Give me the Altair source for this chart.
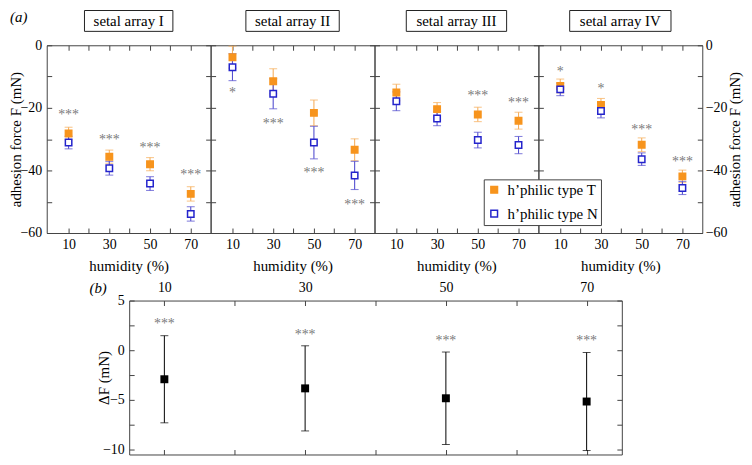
import altair as alt
import pandas as pd

# ---------------- data ----------------
humidity = [10, 30, 50, 70]
arrays = ["setal array I", "setal array II", "setal array III", "setal array IV"]
series = ["h\u2019philic type T", "h\u2019philic type N"]

t_mean = [[-28.2, -35.6, -38.0, -47.5],
          [-3.8, -11.5, -21.6, -33.4],
          [-15.1, -20.4, -22.1, -24.1],
          [-13.0, -19.1, -31.8, -41.9]]
t_err = [[2.0, 2.1, 2.1, 2.3],
         [3.5, 4.0, 4.1, 3.5],
         [2.65, 2.1, 2.3, 2.7],
         [2.2, 2.1, 2.2, 2.0]]
n_mean = [[-31.1, -39.3, -44.2, -53.9],
          [-7.0, -15.5, -31.1, -41.6],
          [-17.9, -23.4, -30.3, -31.9],
          [-14.1, -21.0, -36.4, -45.6]]
n_err = [[2.0, 2.2, 2.2, 2.3],
         [4.3, 4.8, 5.2, 4.5],
         [3.0, 2.3, 2.5, 2.75],
         [2.0, 2.2, 2.0, 2.1]]
sig_label = [["***", "***", "***", "***"],
             ["*", "***", "***", "***"],
             ["", "", "***", "***"],
             ["*", "*", "***", "***"]]
sig_pos = [[-21.8, -29.7, -32.1, -40.9],
           [-14.6, -24.4, -40.1, -50.4],
           [0, 0, -15.7, -17.8],
           [-8.0, -13.3, -26.6, -36.6]]

delta_mean = [-2.95, -3.87, -4.87, -5.2]
delta_err = [4.4, 4.3, 4.67, 4.95]
delta_sig = ["***", "***", "***", "***"]
delta_sig_pos = [2.78, 1.72, 1.13, 1.13]

x_ticks = [10, 20, 30, 40, 50, 60, 70]
y_ticks_top = [-60, -50, -40, -30, -20, -10, 0]
y_ticks_bottom = [-10, -7.5, -5, -2.5, 0, 2.5, 5]

# ---------------- style / layout ----------------
FONT = "Liberation Serif"
ORANGE = "#f7941d"
ORANGE_BAR = "#f6b060"
BLUE = "#2424cc"
BLUE_BAR = "#5550d0"
STAR = "#7a7a7a"
FRAME = "#444444"
W, H = 165, 189
TK = 5
XDOM = [-0.73, 79.76]
YDOM = [-60, 0]
BOX_W = [89, 94, 101, 102]


def ax(**kw):
    base = dict(offset=-TK, tickSize=TK, domain=False, grid=False)
    base.update(kw)
    return alt.Axis(**base)


def top_panel(i):
    rows = []
    for s, means, errs in ((series[0], t_mean[i], t_err[i]), (series[1], n_mean[i], n_err[i])):
        for h, m, e in zip(humidity, means, errs):
            rows.append(dict(humidity=h, series=s, mean=m, lo=m - e, hi=m + e))
    df = pd.DataFrame(rows)
    caps = df.melt(id_vars=["humidity", "series"], value_vars=["lo", "hi"], value_name="cap")
    stars = pd.DataFrame([dict(humidity=h, sig=s, pos=p)
                          for h, s, p in zip(humidity, sig_label[i], sig_pos[i]) if s])

    xs = alt.Scale(domain=XDOM, nice=False, zero=False)
    ys = alt.Scale(domain=YDOM, nice=False, zero=False)

    x_bottom = alt.X("humidity:Q", scale=xs, axis=ax(
        orient="bottom", values=x_ticks,
        labelExpr="datum.value % 20 == 10 ? datum.label : ''",
        title="humidity (%)", labelPadding=5, titlePadding=7))
    x_top = alt.X("humidity:Q", scale=xs, axis=ax(orient="top", values=x_ticks, labels=False, title=None))
    x_none = alt.X("humidity:Q", scale=xs, axis=None)

    if i == 0:
        y_left_axis = ax(orient="left", values=y_ticks_top,
                         labelExpr="datum.value % 20 == 0 ? datum.label : ''",
                         title="adhesion force F (mN)", labelPadding=5,
                         titleX=-36, titleBaseline="middle")
    else:
        y_left_axis = ax(orient="left", values=y_ticks_top, labels=False, title=None)
    if i == 3:
        y_right_axis = ax(orient="right", values=y_ticks_top,
                          labelExpr="datum.value % 20 == 0 ? datum.label : ''",
                          title="adhesion force F (mN)", labelPadding=3, titlePadding=1,
                          titleAngle=270, titleBaseline="top")
    else:
        y_right_axis = ax(orient="right", values=y_ticks_top, labels=False, title=None)

    layers = []
    for s, col in ((series[0], ORANGE_BAR), (series[1], BLUE_BAR)):
        first = s == series[0]
        bar = alt.Chart(df).transform_filter(alt.datum.series == s).mark_rule(
            color=col, strokeWidth=1.1).encode(
            x=x_top if first else x_none,
            y=alt.Y("lo:Q", scale=ys, axis=y_right_axis if first else None),
            y2="hi:Q")
        cap = alt.Chart(caps).transform_filter(alt.datum.series == s).mark_tick(
            color=col, orient="horizontal", size=8, thickness=1.1).encode(
            x=x_none, y=alt.Y("cap:Q", scale=ys, axis=None))
        layers += [bar, cap]

    legend = alt.Legend(title=None, orient="none", legendX=440, legendY=135,
                        fillColor="white", strokeColor=FRAME, padding=3,
                        columnPadding=0,
                        labelFont=FONT, labelFontSize=15, labelColor="black",
                        symbolType="square", symbolSize=45, symbolStrokeWidth=1.5,
                        rowPadding=8, labelOffset=6)
    squares = alt.Chart(df).mark_square(size=42, strokeWidth=1.5, opacity=1).encode(
        x=x_bottom,
        y=alt.Y("mean:Q", scale=ys, axis=y_left_axis),
        fill=alt.Fill("series:N", scale=alt.Scale(domain=series, range=[ORANGE, "white"]), legend=legend),
        stroke=alt.Stroke("series:N", scale=alt.Scale(domain=series, range=[ORANGE, BLUE]), legend=legend),
    )
    layers.append(squares)

    star_layer = alt.Chart(stars).mark_text(font=FONT, fontSize=14, color=STAR,
                                            baseline="alphabetic", dy=6).encode(
        x=x_none, y=alt.Y("pos:Q", scale=ys, axis=None), text="sig:N")
    layers.append(star_layer)

    tdf = pd.DataFrame({"title": [arrays[i]]})
    bw = BOX_W[i]
    box = alt.Chart(tdf).mark_rect(fill="white", stroke="#222222", strokeWidth=1).encode(
        x=alt.value(W / 2 - bw / 2), x2=alt.value(W / 2 + bw / 2),
        y=alt.value(-35), y2=alt.value(-14))
    btxt = alt.Chart(tdf).mark_text(font=FONT, fontSize=15, color="black", baseline="middle").encode(
        x=alt.value(W / 2), y=alt.value(-24.5), text="title:N")
    layers += [box, btxt]

    if i == 0:
        lab = alt.Chart(pd.DataFrame({"t": ["(a)"]})).mark_text(
            font=FONT, fontSize=15, fontStyle="italic", align="left", baseline="top", color="black").encode(
            x=alt.value(-37), y=alt.value(-35), text="t:N")
        layers.append(lab)

    return alt.layer(*layers).resolve_axis(x="independent", y="independent").properties(width=W, height=H)


panels = [top_panel(i) for i in range(4)]
top = alt.hconcat(*panels, spacing=0, bounds="flush")

# ---------------- bottom panel ----------------
bdf = pd.DataFrame({"humidity": humidity, "delta": delta_mean,
                    "lo": [m - e for m, e in zip(delta_mean, delta_err)],
                    "hi": [m + e for m, e in zip(delta_mean, delta_err)],
                    "sig": delta_sig, "pos": delta_sig_pos})
bcaps = bdf.melt(id_vars=["humidity"], value_vars=["lo", "hi"], value_name="cap")
bxs = alt.Scale(domain=[5, 75], nice=False, zero=False)
bys = alt.Scale(domain=[-10.55, 5], nice=False, zero=False)
BW, BH = 496, 155

b_rule = alt.Chart(bdf).mark_rule(color="black", strokeWidth=1).encode(
    x=alt.X("humidity:Q", scale=bxs, axis=ax(orient="bottom", values=x_ticks, labels=False, title=None)),
    y=alt.Y("lo:Q", scale=bys, axis=ax(orient="right", values=y_ticks_bottom, labels=False, title=None)),
    y2="hi:Q")
b_caps = alt.Chart(bcaps).mark_tick(color="black", orient="horizontal", size=8, thickness=1).encode(
    x=alt.X("humidity:Q", scale=bxs, axis=None), y=alt.Y("cap:Q", scale=bys, axis=None))
b_pts = alt.Chart(bdf).mark_square(size=64, color="black", opacity=1).encode(
    x=alt.X("humidity:Q", scale=bxs, axis=ax(orient="top", values=x_ticks,
                                             labelExpr="datum.value % 20 == 10 ? datum.label : ''",
                                             title=None, labelPadding=6)),
    y=alt.Y("delta:Q", scale=bys, axis=ax(orient="left", values=y_ticks_bottom,
                                          labelExpr="datum.value % 5 == 0 ? datum.label : ''",
                                          title="\u0394F (mN)", labelPadding=5,
                                          titleX=-31, titleBaseline="middle")))
b_stars = alt.Chart(bdf).mark_text(font=FONT, fontSize=14, color=STAR, baseline="alphabetic", dy=6).encode(
    x=alt.X("humidity:Q", scale=bxs, axis=None), y=alt.Y("pos:Q", scale=bys, axis=None), text="sig:N")
b_lab = alt.Chart(pd.DataFrame({"t": ["(b)"]})).mark_text(
    font=FONT, fontSize=15, fontStyle="italic", align="left", baseline="middle", color="black").encode(
    x=alt.value(-40), y=alt.value(-13), text="t:N")

bottom_chart = alt.layer(b_rule, b_caps, b_pts, b_stars, b_lab).resolve_axis(
    x="independent", y="independent").properties(width=BW, height=BH)

spacer = alt.Chart(pd.DataFrame({"v": [0]})).mark_point(opacity=0).encode(
    x=alt.X("v:Q", axis=None), y=alt.Y("v:Q", axis=None)).properties(
    width=83, height=BH, view=alt.ViewBackground(stroke="transparent"))

bottom = alt.hconcat(spacer, bottom_chart, spacing=0, bounds="flush")

chart = alt.vconcat(top, bottom, spacing=5).properties(
    padding={"left": 0, "top": 0, "right": 0, "bottom": 0}
).configure_view(stroke=FRAME, strokeWidth=1).configure_axis(
    tickColor=FRAME, tickWidth=1,
    labelFont=FONT, labelFontSize=14, labelColor="black",
    titleFont=FONT, titleFontSize=15, titleFontWeight="normal", titleColor="black",
)

chart.save("out.html", embed_options={"renderer": "svg", "actions": False})
